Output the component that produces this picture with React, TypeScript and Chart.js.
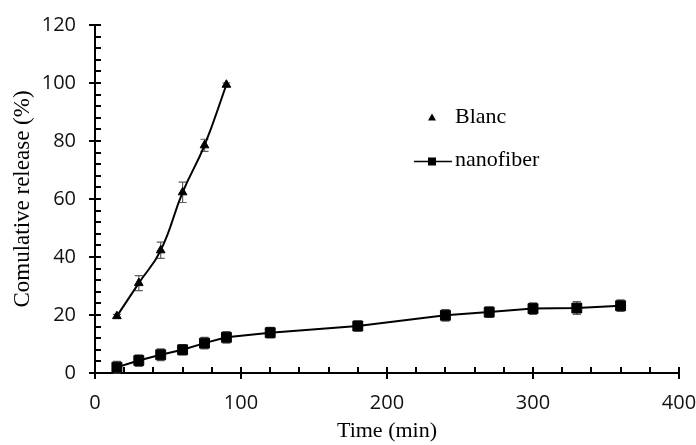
import React, { useEffect, useRef } from "react";
import { Chart, registerables } from "chart.js";

Chart.register(...registerables);

// ---- data ----
const seriesNames = ["Blanc", "nanofiber"];
const blancTime = [15, 30, 45, 60, 75, 90];
const blancRelease = [19.6, 31.0, 42.3, 62.3, 78.5, 99.4];
const blancError = [0.6, 2.6, 2.8, 3.5, 2.1, 0.6];
const nanoTime = [15, 30, 45, 60, 75, 90, 120, 180, 240, 270, 300, 330, 360];
const nanoRelease = [2.0, 4.3, 6.3, 8.0, 10.3, 12.3, 13.9, 16.2, 19.9, 21.0, 22.2, 22.4, 23.2];
const nanoError = [2.0, 2.0, 2.0, 1.8, 2.0, 2.0, 1.8, 1.8, 2.0, 1.8, 2.0, 2.2, 2.0];
const xMin = 0;
const xMax = 400;
const xMajorStep = 100;
const xMinorStep = 20;
const yMin = 0;
const yMax = 120;
const yMajorStep = 20;
const yMinorStep = 4;
const xTitle = "Time (min)";
const yTitle = "Comulative release (%)";

const serif = "'Liberation Serif', 'Times New Roman', serif";
const sans = "'Open Sans', 'Noto Sans', sans-serif";

const errorBarPlugin = {
  id: "errorBars",
  beforeDatasetsDraw(chart: any) {
    const ctx = chart.ctx;
    const xs = chart.scales.x;
    const ys = chart.scales.y;
    const errs = [blancError, nanoError];
    ctx.save();
    ctx.strokeStyle = "#5e5e5e";
    ctx.lineWidth = 1.2;
    chart.data.datasets.forEach((ds: any, i: number) => {
      ds.data.forEach((p: any, j: number) => {
        const e = errs[i][j];
        const px = xs.getPixelForValue(p.x);
        const top = ys.getPixelForValue(p.y + e);
        const bot = ys.getPixelForValue(p.y - e);
        ctx.beginPath();
        ctx.moveTo(px, top);
        ctx.lineTo(px, bot);
        ctx.moveTo(px - 4, top);
        ctx.lineTo(px + 4, top);
        ctx.moveTo(px - 4, bot);
        ctx.lineTo(px + 4, bot);
        ctx.stroke();
      });
    });
    ctx.restore();
  },
};

const axesPlugin = {
  id: "axesTicks",
  beforeDatasetsDraw(chart: any) {
    const ctx = chart.ctx;
    const xs = chart.scales.x;
    const ys = chart.scales.y;
    const { left, right, top, bottom } = chart.chartArea;
    ctx.save();
    ctx.strokeStyle = "#000";
    ctx.lineWidth = 2;
    ctx.beginPath();
    ctx.moveTo(left, bottom);
    ctx.lineTo(right + 1, bottom);
    ctx.moveTo(left, bottom + 1);
    ctx.lineTo(left, top - 1);
    for (let v = xMin; v <= xMax + 1e-9; v += xMinorStep) {
      const px = Math.round(xs.getPixelForValue(v));
      const major = Math.abs(v / xMajorStep - Math.round(v / xMajorStep)) < 1e-9;
      ctx.moveTo(px, bottom - 6);
      ctx.lineTo(px, major ? bottom + 6 : bottom);
    }
    for (let v = yMin; v <= yMax + 1e-9; v += yMinorStep) {
      const py = Math.round(ys.getPixelForValue(v));
      const major = Math.abs(v / yMajorStep - Math.round(v / yMajorStep)) < 1e-9;
      ctx.moveTo(major ? left - 6 : left, py);
      ctx.lineTo(left + 6, py);
    }
    ctx.stroke();
    ctx.restore();
  },
};

const legendPlugin = {
  id: "customLegend",
  afterDraw(chart: any) {
    const ctx = chart.ctx;
    ctx.save();
    ctx.fillStyle = "#000";
    ctx.strokeStyle = "#000";
    const tx = 432;
    const ty = 118;
    ctx.beginPath();
    ctx.moveTo(tx, ty - 4.5);
    ctx.lineTo(tx + 4, ty + 2.5);
    ctx.lineTo(tx - 4, ty + 2.5);
    ctx.closePath();
    ctx.fill();
    const ny = 161.5;
    ctx.lineWidth = 1.5;
    ctx.beginPath();
    ctx.moveTo(414, ny);
    ctx.lineTo(452, ny);
    ctx.stroke();
    ctx.fillRect(428, ny - 4, 8, 8);
    ctx.font = "22px " + serif;
    ctx.textBaseline = "middle";
    ctx.textAlign = "left";
    ctx.fillText(seriesNames[0], 455, 117);
    ctx.fillText(seriesNames[1], 455, 160);
    ctx.restore();
  },
};

export default function App() {
  const canvasRef = useRef<HTMLCanvasElement | null>(null);

  useEffect(() => {
    document.body.style.margin = "0";
    const canvas = canvasRef.current;
    if (!canvas) return;
    const chart = new Chart(canvas, {
      type: "line",
      data: {
        datasets: [
          {
            label: seriesNames[0],
            data: blancTime.map((t, i) => ({ x: t, y: blancRelease[i] })),
            borderColor: "#000",
            borderWidth: 2,
            tension: 0.45,
            pointStyle: "triangle",
            pointRadius: 5,
            pointBackgroundColor: "#000",
            pointBorderColor: "#000",
            pointBorderWidth: 1,
            fill: false,
          },
          {
            label: seriesNames[1],
            data: nanoTime.map((t, i) => ({ x: t, y: nanoRelease[i] })),
            borderColor: "#000",
            borderWidth: 2,
            tension: 0,
            pointStyle: "rect",
            pointRadius: 7,
            pointBackgroundColor: "#000",
            pointBorderColor: "#000",
            pointBorderWidth: 1,
            fill: false,
          },
        ],
      },
      options: {
        responsive: false,
        animation: false,
        events: [],
        layout: { padding: { top: 25, right: 17, bottom: 0, left: 0 } },
        plugins: {
          legend: { display: false },
          tooltip: { enabled: false },
          title: { display: false },
        },
        scales: {
          x: {
            type: "linear",
            min: xMin,
            max: xMax,
            grid: { display: false, drawTicks: false, tickLength: 0 },
            border: { display: false },
            ticks: {
              stepSize: xMajorStep,
              padding: 18,
              color: "#111",
              font: { family: sans, size: 20 },
              maxRotation: 0,
            },
            title: {
              display: true,
              text: xTitle,
              color: "#000",
              font: { family: serif, size: 22 },
              padding: { top: 0, bottom: 1 },
            },
            afterFit: (s: any) => {
              s.height = 72;
              s.paddingLeft = 0;
              s.paddingRight = 0;
            },
          },
          y: {
            type: "linear",
            min: yMin,
            max: yMax,
            grid: { display: false, drawTicks: false, tickLength: 0 },
            border: { display: false },
            ticks: {
              stepSize: yMajorStep,
              padding: 19,
              color: "#111",
              font: { family: sans, size: 20 },
            },
            title: {
              display: true,
              text: yTitle,
              color: "#000",
              font: { family: serif, size: 23 },
              padding: { top: 9, bottom: 0 },
            },
            afterFit: (s: any) => {
              s.width = 95;
              s.paddingTop = 0;
              s.paddingBottom = 0;
            },
          },
        },
      },
      plugins: [axesPlugin, errorBarPlugin, legendPlugin],
    });
    return () => chart.destroy();
  }, []);

  return (
    <div style={{ position: "absolute", left: 0, top: 0, width: 696, height: 445, background: "#fff" }}>
      <canvas ref={canvasRef} width={696} height={445} />
    </div>
  );
}
